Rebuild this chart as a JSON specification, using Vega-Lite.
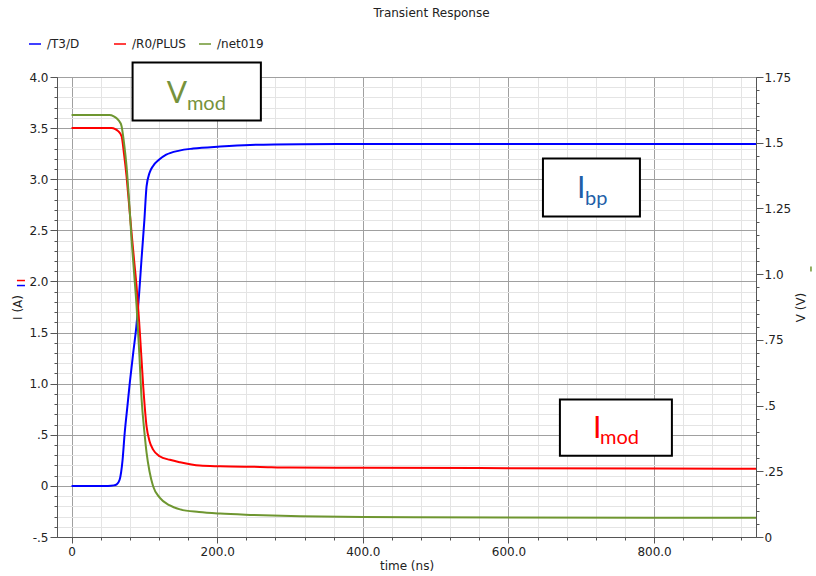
{
  "$schema": "https://vega.github.io/schema/vega-lite/v6.json",
  "width": 699,
  "height": 460,
  "autosize": {"type": "none"},
  "padding": {"left": 57, "top": 77, "right": 60, "bottom": 39},
  "background": "white",
  "title": {"text": "Transient Response", "font": "DejaVu Sans", "fontSize": 12, "fontWeight": "normal", "color": "#222", "frame": "group", "anchor": "middle", "baseline": "bottom", "offset": 5, "dx": 25},
  "config": {
    "view": {"stroke": "#555", "strokeWidth": 1},
    "axis": {"labelFont": "DejaVu Sans", "labelFontSize": 12, "labelColor": "#222", "titleFont": "DejaVu Sans", "titleFontSize": 12, "titleFontWeight": "normal", "titleColor": "#222", "domainColor": "#555", "tickColor": "#555", "labelOverlap": false, "labelFlush": false}
  },
  "datasets": {
    "curves": [
      {"s": "/T3/D", "t": 0, "v": 0}, {"s": "/T3/D", "t": 50, "v": 0}, {"s": "/T3/D", "t": 58, "v": 0.005}, {"s": "/T3/D", "t": 62, "v": 0.015}, {"s": "/T3/D", "t": 66, "v": 0.06}, {"s": "/T3/D", "t": 70, "v": 0.25}, {"s": "/T3/D", "t": 73, "v": 0.52}, {"s": "/T3/D", "t": 77, "v": 0.8}, {"s": "/T3/D", "t": 80, "v": 1.01}, {"s": "/T3/D", "t": 85, "v": 1.32}, {"s": "/T3/D", "t": 89, "v": 1.56}, {"s": "/T3/D", "t": 93, "v": 1.9}, {"s": "/T3/D", "t": 96, "v": 2.21}, {"s": "/T3/D", "t": 100, "v": 2.6}, {"s": "/T3/D", "t": 103, "v": 2.93}, {"s": "/T3/D", "t": 107, "v": 3.06}, {"s": "/T3/D", "t": 112, "v": 3.13}, {"s": "/T3/D", "t": 120, "v": 3.19}, {"s": "/T3/D", "t": 130, "v": 3.24}, {"s": "/T3/D", "t": 148, "v": 3.28}, {"s": "/T3/D", "t": 167, "v": 3.3}, {"s": "/T3/D", "t": 204, "v": 3.32}, {"s": "/T3/D", "t": 245, "v": 3.335}, {"s": "/T3/D", "t": 314, "v": 3.342}, {"s": "/T3/D", "t": 450, "v": 3.345}, {"s": "/T3/D", "t": 700, "v": 3.345}, {"s": "/T3/D", "t": 940, "v": 3.345},
      {"s": "/R0/PLUS", "t": 0, "v": 3.5}, {"s": "/R0/PLUS", "t": 55, "v": 3.5}, {"s": "/R0/PLUS", "t": 60, "v": 3.49}, {"s": "/R0/PLUS", "t": 64, "v": 3.47}, {"s": "/R0/PLUS", "t": 68.7, "v": 3.42}, {"s": "/R0/PLUS", "t": 72, "v": 3.25}, {"s": "/R0/PLUS", "t": 75.5, "v": 3.03}, {"s": "/R0/PLUS", "t": 79, "v": 2.75}, {"s": "/R0/PLUS", "t": 82.4, "v": 2.476}, {"s": "/R0/PLUS", "t": 86, "v": 2.2}, {"s": "/R0/PLUS", "t": 89.3, "v": 1.95}, {"s": "/R0/PLUS", "t": 93.8, "v": 1.5}, {"s": "/R0/PLUS", "t": 98.4, "v": 0.975}, {"s": "/R0/PLUS", "t": 103, "v": 0.583}, {"s": "/R0/PLUS", "t": 107, "v": 0.44}, {"s": "/R0/PLUS", "t": 112, "v": 0.355}, {"s": "/R0/PLUS", "t": 121, "v": 0.29}, {"s": "/R0/PLUS", "t": 135, "v": 0.255}, {"s": "/R0/PLUS", "t": 149, "v": 0.231}, {"s": "/R0/PLUS", "t": 176, "v": 0.199}, {"s": "/R0/PLUS", "t": 204, "v": 0.192}, {"s": "/R0/PLUS", "t": 259, "v": 0.186}, {"s": "/R0/PLUS", "t": 300, "v": 0.18}, {"s": "/R0/PLUS", "t": 400, "v": 0.178}, {"s": "/R0/PLUS", "t": 600, "v": 0.173}, {"s": "/R0/PLUS", "t": 800, "v": 0.17}, {"s": "/R0/PLUS", "t": 940, "v": 0.168},
      {"s": "/net019", "t": 0, "v": 1.605}, {"s": "/net019", "t": 52, "v": 1.605}, {"s": "/net019", "t": 58, "v": 1.6}, {"s": "/net019", "t": 63, "v": 1.59}, {"s": "/net019", "t": 66, "v": 1.58}, {"s": "/net019", "t": 68.7, "v": 1.563}, {"s": "/net019", "t": 72, "v": 1.5}, {"s": "/net019", "t": 75.5, "v": 1.411}, {"s": "/net019", "t": 79, "v": 1.28}, {"s": "/net019", "t": 82.4, "v": 1.132}, {"s": "/net019", "t": 86, "v": 1.0}, {"s": "/net019", "t": 89.3, "v": 0.878}, {"s": "/net019", "t": 93, "v": 0.7}, {"s": "/net019", "t": 96.2, "v": 0.523}, {"s": "/net019", "t": 100, "v": 0.4}, {"s": "/net019", "t": 103, "v": 0.321}, {"s": "/net019", "t": 107, "v": 0.25}, {"s": "/net019", "t": 112, "v": 0.193}, {"s": "/net019", "t": 121, "v": 0.15}, {"s": "/net019", "t": 135, "v": 0.12}, {"s": "/net019", "t": 149, "v": 0.105}, {"s": "/net019", "t": 175, "v": 0.095}, {"s": "/net019", "t": 204, "v": 0.089}, {"s": "/net019", "t": 250, "v": 0.084}, {"s": "/net019", "t": 314, "v": 0.079}, {"s": "/net019", "t": 400, "v": 0.076}, {"s": "/net019", "t": 600, "v": 0.074}, {"s": "/net019", "t": 800, "v": 0.073}, {"s": "/net019", "t": 940, "v": 0.073}
    ],
    "boxes": [
      {"box": "Vmod", "t": 83.8, "t1": 260, "v": 4.142, "v1": 3.574},
      {"box": "Ibp", "t": 647.4, "t1": 780.6, "v": 3.203, "v1": 2.635},
      {"box": "Imod", "t": 670.7, "t1": 824.5, "v": 0.844, "v1": 0.296}
    ],
    "big": [
      {"box": "Vmod", "t": 130.9, "v": 3.748, "txt": "V"},
      {"box": "Ibp", "t": 694.1, "v": 2.821, "txt": "I"},
      {"box": "Imod", "t": 716, "v": 0.473, "txt": "I"}
    ],
    "small": [
      {"box": "Vmod", "t": 158.4, "v": 3.682, "txt": "mod"},
      {"box": "Ibp", "t": 705.1, "v": 2.752, "txt": "bp"},
      {"box": "Imod", "t": 725.7, "v": 0.405, "txt": "mod"}
    ],
    "ikeys": [
      {"s": "/R0/PLUS", "t": -75, "t1": -64, "v": 2.009},
      {"s": "/T3/D", "t": -75, "t1": -64, "v": 1.96}
    ],
    "vkeys": [
      {"s": "/net019", "t": 1015.5, "v": 1.029, "v1": 1.01}
    ]
  },
  "encoding": {
    "x": {"field": "t", "type": "quantitative", "title": "time (ns)",
      "scale": {"domain": [-20, 940], "nice": false, "zero": false},
      "axis": {"values": [0, 40, 80, 120, 160, 200, 240, 280, 320, 360, 400, 440, 480, 520, 560, 600, 640, 680, 720, 760, 800, 840, 880, 920],
        "grid": true, "labelOverlap": false,
        "gridColor": {"condition": {"test": "datum.value % 200 == 0", "value": "#a0a0a0"}, "value": "#e4e4e4"},
        "gridWidth": 1,
        "tickSize": {"condition": {"test": "datum.value % 200 == 0", "value": 6}, "value": 3},
        "labelExpr": "datum.value % 200 == 0 ? (datum.value == 0 ? '0' : format(datum.value, '.1f')) : ''",
        "labelPadding": 3, "titlePadding": 3}}
  },
  "layer": [
    {
      "encoding": {
        "y": {"field": "v", "type": "quantitative", "title": "I (A)",
          "scale": {"domain": [-0.5, 4.0], "nice": false, "zero": false},
          "axis": {"orient": "left", "values": [-0.5, -0.4, -0.3, -0.2, -0.1, 0, 0.1, 0.2, 0.3, 0.4, 0.5, 0.6, 0.7, 0.8, 0.9, 1.0, 1.1, 1.2, 1.3, 1.4, 1.5, 1.6, 1.7, 1.8, 1.9, 2.0, 2.1, 2.2, 2.3, 2.4, 2.5, 2.6, 2.7, 2.8, 2.9, 3.0, 3.1, 3.2, 3.3, 3.4, 3.5, 3.6, 3.7, 3.8, 3.9, 4.0],
            "grid": true, "labelOverlap": false,
            "gridColor": {"condition": {"test": "abs(datum.value*2 - round(datum.value*2)) < 0.01", "value": "#a0a0a0"}, "value": "#e4e4e4"},
            "tickSize": {"condition": {"test": "abs(datum.value*2 - round(datum.value*2)) < 0.01", "value": 7}, "value": 3},
            "labelExpr": "abs(datum.value*2 - round(datum.value*2)) < 0.01 ? (datum.value == 0 ? '0' : (datum.value == -0.5 ? '-.5' : replace(format(datum.value, '.1f'), '0.', '.'))) : ''",
            "labelPadding": 2, "titlePadding": 4}}
      },
      "layer": [
        {
          "data": {"name": "curves"},
          "transform": [{"filter": "datum.s != '/net019'"}],
          "mark": {"type": "line", "strokeWidth": 2, "interpolate": "monotone"},
          "encoding": {
            "color": {"field": "s", "type": "nominal",
              "scale": {"domain": ["/T3/D", "/R0/PLUS", "/net019"], "range": ["#0000ff", "#ff0000", "#6e9630"]},
              "legend": {"orient": "none", "legendX": -29, "legendY": -40, "direction": "horizontal", "title": null, "symbolType": "stroke", "symbolSize": 144, "symbolStrokeWidth": 1.5, "labelFont": "DejaVu Sans", "labelFontSize": 12, "labelColor": "#222", "labelOffset": 5, "gridAlign": "all", "columnPadding": 10}}
          }
        },
        {
          "data": {"name": "boxes"},
          "mark": {"type": "rect", "fill": "white", "stroke": "black", "strokeWidth": 2},
          "encoding": {
            "x2": {"field": "t1"},
            "y2": {"field": "v1"}
          }
        },
        {
          "data": {"name": "big"},
          "mark": {"type": "text", "font": "Lato", "fontSize": 30, "align": "left", "baseline": "alphabetic"},
          "encoding": {
            "text": {"field": "txt"},
            "fill": {"field": "box", "type": "nominal", "scale": {"domain": ["Vmod", "Ibp", "Imod"], "range": ["#76923c", "#1f5fa8", "#ff0000"]}, "legend": null}
          }
        },
        {
          "data": {"name": "small"},
          "mark": {"type": "text", "font": "Lato", "fontSize": 20, "align": "left", "baseline": "alphabetic"},
          "encoding": {
            "text": {"field": "txt"},
            "fill": {"field": "box", "type": "nominal", "legend": null}
          }
        },
        {
          "data": {"name": "ikeys"},
          "mark": {"type": "rule", "strokeWidth": 1.5, "clip": false},
          "encoding": {
            "x2": {"field": "t1"},
            "color": {"field": "s", "type": "nominal"}
          }
        }
      ]
    },
    {
      "encoding": {
        "y": {"field": "v", "type": "quantitative", "title": "V (V)",
          "scale": {"domain": [0, 1.75], "nice": false, "zero": false},
          "axis": {"orient": "right", "grid": false, "labelOverlap": false,
            "values": [0, 0.05, 0.1, 0.15, 0.2, 0.25, 0.3, 0.35, 0.4, 0.45, 0.5, 0.55, 0.6, 0.65, 0.7, 0.75, 0.8, 0.85, 0.9, 0.95, 1.0, 1.05, 1.1, 1.15, 1.2, 1.25, 1.3, 1.35, 1.4, 1.45, 1.5, 1.55, 1.6, 1.65, 1.7, 1.75],
            "tickSize": {"condition": {"test": "abs(datum.value*4 - round(datum.value*4)) < 0.01", "value": 7}, "value": 3},
            "labelExpr": "abs(datum.value*4 - round(datum.value*4)) < 0.01 ? (datum.value == 0 ? '0' : (datum.value == 1 ? '1.0' : replace(format(datum.value, '.2~f'), '0.', '.'))) : ''",
            "labelPadding": 1, "titlePadding": 17, "titleAngle": 270}}
      },
      "layer": [
        {
          "data": {"name": "curves"},
          "transform": [{"filter": "datum.s == '/net019'"}],
          "mark": {"type": "line", "strokeWidth": 2, "interpolate": "monotone"},
          "encoding": {
            "color": {"field": "s", "type": "nominal"}
          }
        },
        {
          "data": {"name": "vkeys"},
          "mark": {"type": "rule", "strokeWidth": 1.5, "clip": false},
          "encoding": {
            "y2": {"field": "v1"},
            "color": {"field": "s", "type": "nominal"}
          }
        }
      ]
    }
  ],
  "resolve": {"scale": {"y": "independent"}, "axis": {"y": "independent"}}
}
